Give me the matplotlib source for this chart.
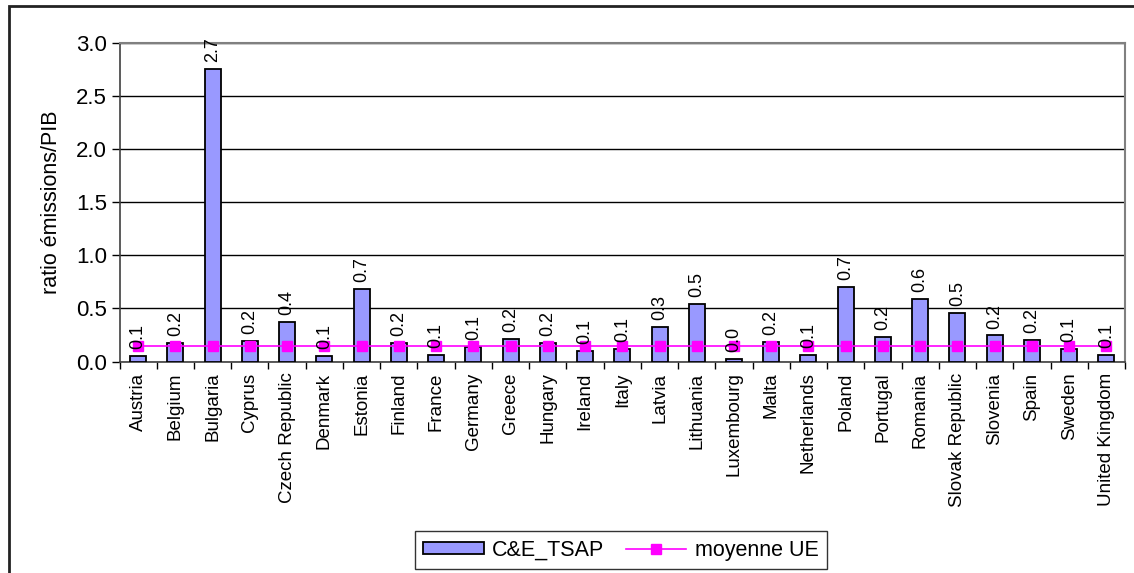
import matplotlib.pyplot as plt
import numpy as np
from matplotlib.patches import Rectangle

plt.rcParams['font.family'] = ['Liberation Sans', 'DejaVu Sans']

countries = ["Austria", "Belgium", "Bulgaria", "Cyprus", "Czech Republic", "Denmark",
             "Estonia", "Finland", "France", "Germany", "Greece", "Hungary", "Ireland",
             "Italy", "Latvia", "Lithuania", "Luxembourg", "Malta", "Netherlands",
             "Poland", "Portugal", "Romania", "Slovak Republic", "Slovenia", "Spain",
             "Sweden", "United Kingdom"]
ratio = [0.055, 0.17, 2.749, 0.19, 0.375, 0.055, 0.685, 0.17, 0.065, 0.135, 0.21,
         0.17, 0.10, 0.12, 0.325, 0.54, 0.02, 0.18, 0.065, 0.70, 0.23, 0.585,
         0.455, 0.245, 0.20, 0.12, 0.065]
moyenne_ue = 0.147

fig = plt.figure(figsize=(11.34, 5.73), dpi=100)
ax = fig.add_axes([0.1054, 0.3691, 0.9921 - 0.1054, 0.9258 - 0.3691])

x = np.arange(len(countries))
bars = ax.bar(x, ratio, width=0.43, color="#9999FF", edgecolor="black", linewidth=1.3,
              label="C&E_TSAP", zorder=3)
line, = ax.plot(x, [moyenne_ue] * len(x), "-s", color="#FF00FF", markersize=7,
                linewidth=1.2, label="moyenne UE", zorder=4)

for xi, v in zip(x, ratio):
    ax.annotate(f"{v:.1f}", (xi, v), xytext=(0, 5), textcoords="offset points",
                rotation=90, ha="center", va="bottom", fontsize=13, zorder=5)

ax.set_xlim(-0.5, len(countries) - 0.5)
ax.set_ylim(0, 3.0)
ax.set_yticks(np.arange(0, 3.01, 0.5))
ax.set_yticklabels([f"{t:.1f}" for t in np.arange(0, 3.01, 0.5)], fontsize=16)
ax.set_xticks(x)
ax.set_xticklabels(countries, rotation=90, fontsize=13.5)
ax.tick_params(axis="x", which="major", length=0, pad=8)
ax.set_xticks(np.arange(-0.5, len(countries), 1), minor=True)
ax.tick_params(axis="x", which="minor", length=5, width=1, direction="out")
ax.tick_params(axis="y", length=6, width=1, direction="out", pad=3)
ax.yaxis.grid(True, color="black", linewidth=1)
ax.set_axisbelow(True)
ax.set_ylabel("ratio émissions/PIB", fontsize=15.5, labelpad=10)

for side in ["top", "right"]:
    ax.spines[side].set_color("#808080")
    ax.spines[side].set_linewidth(1.5)
for side in ["left", "bottom"]:
    ax.spines[side].set_color("#404040")
    ax.spines[side].set_linewidth(1.2)

leg = fig.legend([bars, line], ["C&E_TSAP", "moyenne UE"], loc="center",
                 bbox_to_anchor=(0.5476, 0.040), ncol=2, fontsize=15.5,
                 frameon=True, fancybox=False, edgecolor="black", borderpad=0.4,
                 handlelength=2.8, handleheight=0.5, handletextpad=0.4,
                 columnspacing=1.0)
leg.get_frame().set_linewidth(1.0)

# outer chart frame
fig.patches.append(Rectangle((9 / 1134, -0.05), 1.2, 1 - 5.5 / 573 + 0.05,
                             transform=fig.transFigure, fill=False,
                             edgecolor="#222222", linewidth=2))

fig.savefig("out.png", dpi=100)
